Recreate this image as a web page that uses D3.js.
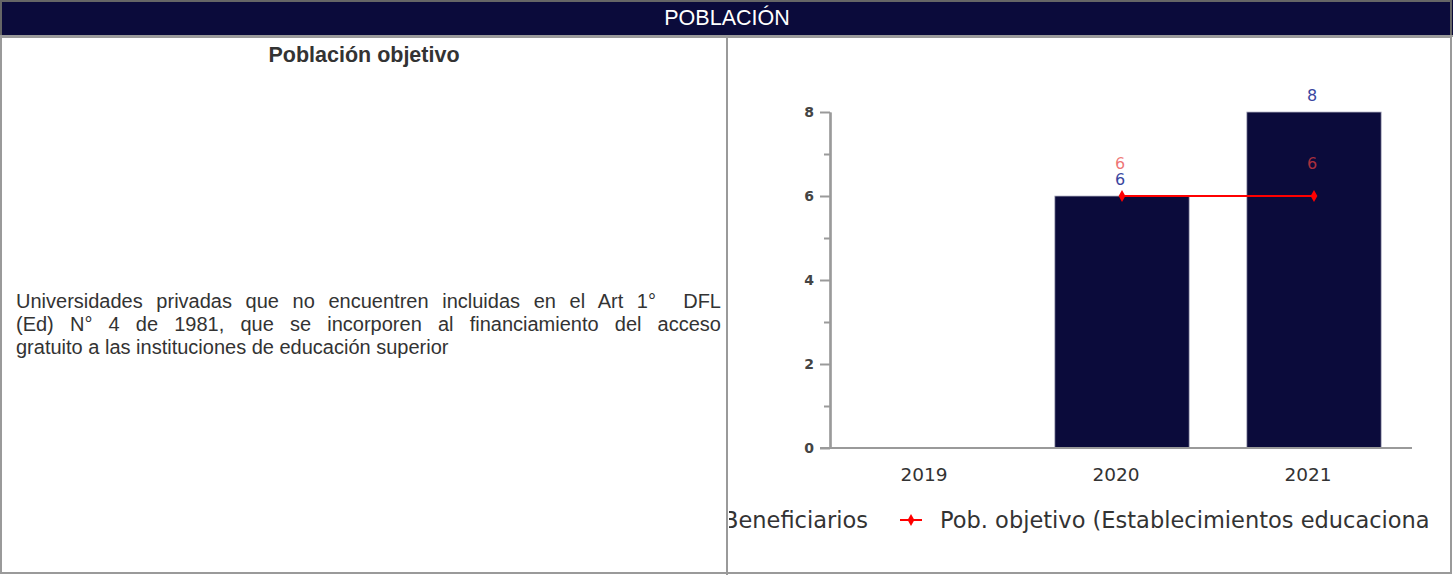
<!DOCTYPE html>
<html>
<head>
<meta charset="utf-8">
<script src="https://cdn.jsdelivr.net/npm/d3@7"></script>
<style>
  html, body { margin: 0; padding: 0; background: #fff; }
  #wrap { position: relative; width: 1453px; height: 575px; overflow: hidden; }
  #wrap svg { position: absolute; left: 0; top: 0; }
  .para { position: absolute; left: 16px; width: 705px; font-family: "Liberation Sans", Arial, sans-serif;
          font-size: 20px; line-height: 23px; color: #333; text-align: justify; }
  .para div { text-align: justify; text-align-last: justify; white-space: nowrap; }
  .para div.last { text-align-last: left; }
</style>
</head>
<body>
<div id="wrap"></div>
<script>
// ---- data ----
const headerTitle = "POBLACIÓN";
const cellTitle = "Población objetivo";
const paragraphLines = [
  "Universidades privadas que no encuentren incluidas en el Art 1°\u00a0 DFL",
  "(Ed) N° 4 de 1981, que se incorporen al financiamiento del acceso",
  "gratuito a las instituciones de educación superior"
];
const categories = ["2019", "2020", "2021"];
const beneficiarios = [null, 6, 8];
const pobObjetivo = [null, 6, 6];
const yMajorTicks = [0, 2, 4, 6, 8];
const yMinorTicks = [1, 3, 5, 7];
const legendLabels = ["Beneficiarios", "Pob. objetivo (Establecimientos educacionales)"];

const W = 1453, H = 575;
const navy = "#0b0b3b", borderC = "#9a9a9a";

const wrap = d3.select("#wrap");
const svg = wrap.append("svg").attr("width", W).attr("height", H);

// ---- table frame ----
svg.append("rect").attr("x", 0).attr("y", 0).attr("width", W).attr("height", 36).attr("fill", navy);
svg.append("text").attr("x", 727).attr("y", 18).attr("text-anchor", "middle").attr("dominant-baseline", "central")
  .attr("font-family", "'Liberation Sans', Arial, sans-serif").attr("font-size", 21.5).attr("fill", "#fff")
  .text(headerTitle);
const frame = svg.append("g").attr("fill", "none").attr("stroke", borderC).attr("stroke-width", 2);
frame.append("rect").attr("x", 1).attr("y", 1).attr("width", W - 3).attr("height", H - 3).attr("stroke", "#666");
frame.append("line").attr("x1", 0).attr("x2", W).attr("y1", 36).attr("y2", 36);
frame.append("line").attr("x1", 727).attr("x2", 727).attr("y1", 36).attr("y2", H);
frame.append("rect").attr("x", 1).attr("y", 37).attr("width", W - 3).attr("height", H - 39);

svg.append("text").attr("x", 364).attr("y", 55).attr("text-anchor", "middle").attr("dominant-baseline", "central")
  .attr("font-family", "'Liberation Sans', Arial, sans-serif").attr("font-size", 21.5).attr("font-weight", "bold")
  .attr("fill", "#333").text(cellTitle);

const para = wrap.append("div").attr("class", "para").style("top", "290px");
para.selectAll("div").data(paragraphLines).join("div")
  .attr("class", (d, i) => i === paragraphLines.length - 1 ? "last" : null)
  .text(d => d);

// ---- chart ----
const chart = svg.append("g");
chart.append("clipPath").attr("id", "clipC").append("rect").attr("x", 729).attr("y", 37).attr("width", 700).attr("height", 535);
const cg = chart.append("g").attr("clip-path", "url(#clipC)");

const x = d3.scaleBand().domain(categories).range([834, 1410]).paddingInner(0.3).paddingOuter(0.15);
const y = d3.scaleLinear().domain([0, 8]).range([448, 112]);
const fontC = "'DejaVu Sans', Verdana, sans-serif";

// bars
const barData = categories.map((c, i) => ({ c, v: beneficiarios[i] })).filter(d => d.v != null);
cg.selectAll("rect.bar").data(barData).join("rect").attr("class", "bar")
  .attr("x", d => x(d.c)).attr("width", x.bandwidth())
  .attr("y", d => y(d.v)).attr("height", d => y(0) - y(d.v))
  .attr("fill", navy).attr("stroke", "#b8b8c8").attr("stroke-width", 0.8);

// axes
const yAxisMajor = d3.axisLeft(y).tickValues(yMajorTicks).tickSize(10).tickSizeOuter(0).tickPadding(6);
const yAxisMinor = d3.axisLeft(y).tickValues(yMinorTicks).tickSize(6).tickSizeOuter(0).tickFormat("");
const gy = cg.append("g").attr("transform", "translate(830,0)").call(yAxisMajor);
const gy2 = cg.append("g").attr("transform", "translate(830,0)").call(yAxisMinor);
[gy, gy2].forEach(g => {
  g.select(".domain").attr("stroke", borderC).attr("stroke-width", 2.2);
  g.selectAll(".tick line").attr("stroke", borderC).attr("stroke-width", 2);
});
gy.selectAll(".tick text").attr("font-family", fontC).attr("font-size", 14).attr("font-weight", "bold")
  .attr("fill", "#444").attr("dy", "0.35em");

const xAxis = d3.axisBottom(x).tickSize(0).tickPadding(0);
const gx = cg.append("g").attr("transform", `translate(0,${y(0)})`).call(xAxis);
gx.select(".domain").remove();
gx.selectAll(".tick text").attr("font-family", fontC).attr("font-size", 18.5).attr("fill", "#333")
  .attr("dx", -6).attr("y", 27).attr("dy", "0.35em");
cg.append("line").attr("x1", 820).attr("x2", 1412).attr("y1", y(0)).attr("y2", y(0))
  .attr("stroke", borderC).attr("stroke-width", 2.2);

// line series
const lineData = categories.map((c, i) => ({ c, v: pobObjetivo[i] })).filter(d => d.v != null);
const line = d3.line().x(d => x(d.c) + x.bandwidth() / 2).y(d => y(d.v));
cg.append("path").datum(lineData).attr("d", line).attr("fill", "none").attr("stroke", "#ff0000").attr("stroke-width", 2);
const diamond = d3.symbol().type(d3.symbolDiamond).size(40);
cg.selectAll("path.mk").data(lineData).join("path").attr("class", "mk")
  .attr("transform", d => `translate(${x(d.c) + x.bandwidth() / 2},${y(d.v)})`)
  .attr("d", diamond).attr("fill", "#ff0000");

// value labels
cg.selectAll("text.bl").data(barData).join("text").attr("class", "bl")
  .attr("x", d => x(d.c) + x.bandwidth() / 2 - 2).attr("y", d => y(d.v) - 17)
  .attr("text-anchor", "middle").attr("dominant-baseline", "central")
  .attr("font-family", fontC).attr("font-size", 16).attr("fill", "#3a46a0").text(d => d.v);
cg.selectAll("text.ll").data(lineData).join("text").attr("class", "ll")
  .attr("x", d => x(d.c) + x.bandwidth() / 2 - 2).attr("y", d => y(d.v) - 33)
  .attr("text-anchor", "middle").attr("dominant-baseline", "central")
  .attr("font-family", fontC).attr("font-size", 16).attr("fill", "#e8403f").attr("fill-opacity", 0.72).text(d => d.v);

// legend
const lg = cg.append("g").attr("font-family", fontC).attr("font-size", 22.5).attr("fill", "#333");
lg.append("rect").attr("x", 700).attr("y", 513).attr("width", 14).attr("height", 14).attr("fill", navy);
lg.append("text").attr("x", 868).attr("y", 520).attr("text-anchor", "end").attr("dominant-baseline", "central").text(legendLabels[0]);
lg.append("line").attr("x1", 900).attr("x2", 922).attr("y1", 520).attr("y2", 520).attr("stroke", "#ff0000").attr("stroke-width", 2);
lg.append("path").attr("transform", "translate(911,520)").attr("d", diamond).attr("fill", "#ff0000");
lg.append("text").attr("x", 940).attr("y", 520).attr("dominant-baseline", "central").text(legendLabels[1]);
</script>
</body>
</html>
